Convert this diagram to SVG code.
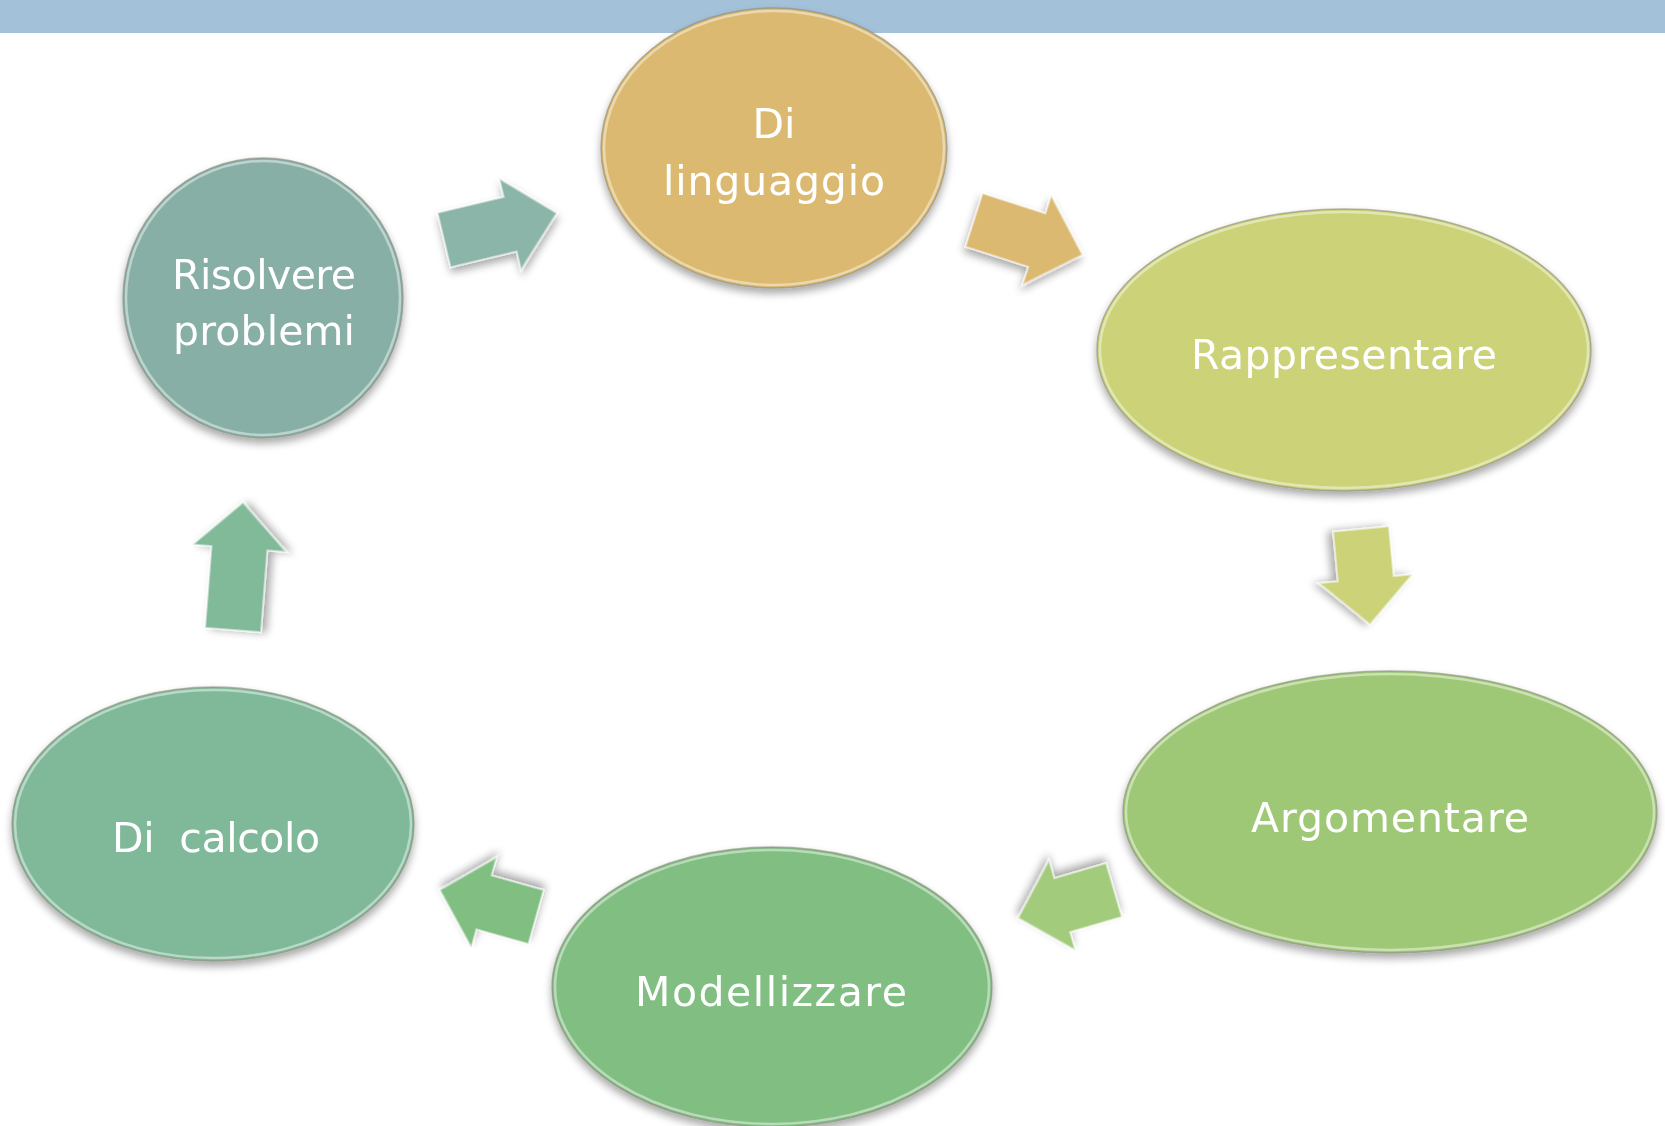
<svg xmlns="http://www.w3.org/2000/svg" width="1665" height="1126" viewBox="0 0 1665 1126">
<defs>
<filter id="sh" x="-20%" y="-20%" width="140%" height="150%">
<feGaussianBlur in="SourceAlpha" stdDeviation="4"/>
<feOffset dx="0" dy="5" result="b"/>
<feComponentTransfer><feFuncA type="linear" slope="0.35"/></feComponentTransfer>
<feMerge><feMergeNode/><feMergeNode in="SourceGraphic"/></feMerge>
</filter>
</defs>
<style>
.node{filter:url(#sh)}
.shape{stroke:#8a8a7a;stroke-opacity:0.6;stroke-width:1.5}
.rim{fill:none;stroke:#ffffff;stroke-opacity:0.45;stroke-width:2.5}
.lbl{font-family:"DejaVu Sans","Liberation Sans",sans-serif;font-size:41px;fill:#ffffff;text-anchor:middle}
.arr{filter:url(#sh);stroke:#ffffff;stroke-opacity:0.5;stroke-width:2;stroke-linejoin:miter}
</style>
<rect x="0" y="0" width="1665" height="33" fill="#A3C2DA"/>

<g id="connectors">
<polygon class="arr" fill="#8BB5A8" transform="translate(444,240) rotate(-13.4)" points="0,-28 68,-28 68,-47 116,0 68,47 68,28 0,28"/>
<polygon class="arr" fill="#DBB96F" transform="translate(974,220) rotate(17.8)" points="0,-28 66,-28 66,-47 114,0 66,47 66,28 0,28"/>
<polygon class="arr" fill="#CBD277" transform="translate(1361,529) rotate(84.6)" points="0,-28 50,-28 50,-47 96,0 50,47 50,28 0,28"/>
<polygon class="arr" fill="#A3CB7C" transform="translate(1114,890) rotate(163.7)" points="0,-28 54,-28 54,-47 100,0 54,47 54,28 0,28"/>
<polygon class="arr" fill="#80BE82" transform="translate(536,917) rotate(195.7)" points="0,-28 54,-28 54,-47 100,0 54,47 54,28 0,28"/>
<polygon class="arr" fill="#80BA98" transform="translate(233,630) rotate(-85.5)" points="0,-28 82,-28 82,-47 128,0 82,47 82,28 0,28"/>
</g>

<g id="node-linguaggio" class="node">
<ellipse class="shape" cx="774" cy="148" rx="173" ry="140" fill="#DBB96F"/>
<ellipse class="rim" cx="774" cy="148" rx="170" ry="137"/>
<text class="lbl" x="774" y="138">Di</text>
<text class="lbl" x="774" y="195" textLength="222" lengthAdjust="spacing">linguaggio</text>
</g>

<g id="node-rappresentare" class="node">
<ellipse class="shape" cx="1344" cy="350" rx="247" ry="141" fill="#CBD277"/>
<ellipse class="rim" cx="1344" cy="350" rx="244" ry="138"/>
<text class="lbl" x="1344" y="369" textLength="306" lengthAdjust="spacing">Rappresentare</text>
</g>

<g id="node-argomentare" class="node">
<ellipse class="shape" cx="1390" cy="812" rx="267" ry="141" fill="#9FC876"/>
<ellipse class="rim" cx="1390" cy="812" rx="264" ry="138"/>
<text class="lbl" x="1390" y="832" textLength="278" lengthAdjust="spacing">Argomentare</text>
</g>

<g id="node-modellizzare" class="node">
<ellipse class="shape" cx="772" cy="987" rx="220" ry="140" fill="#80BE82"/>
<ellipse class="rim" cx="772" cy="987" rx="217" ry="137"/>
<text class="lbl" x="771" y="1006" textLength="272" lengthAdjust="spacing">Modellizzare</text>
</g>

<g id="node-calcolo" class="node">
<ellipse class="shape" cx="213" cy="824" rx="201" ry="137" fill="#80B99A"/>
<ellipse class="rim" cx="213" cy="824" rx="198" ry="134"/>
<text class="lbl" x="216" y="852" textLength="208" lengthAdjust="spacing" xml:space="preserve">Di  calcolo</text>
</g>

<g id="node-risolvere" class="node">
<ellipse class="shape" cx="263" cy="298" rx="140" ry="140" fill="#88AFA6"/>
<ellipse class="rim" cx="263" cy="298" rx="137" ry="137"/>
<text class="lbl" x="264" y="289" textLength="184" lengthAdjust="spacing">Risolvere</text>
<text class="lbl" x="264" y="345" textLength="182" lengthAdjust="spacing">problemi</text>
</g>
</svg>
